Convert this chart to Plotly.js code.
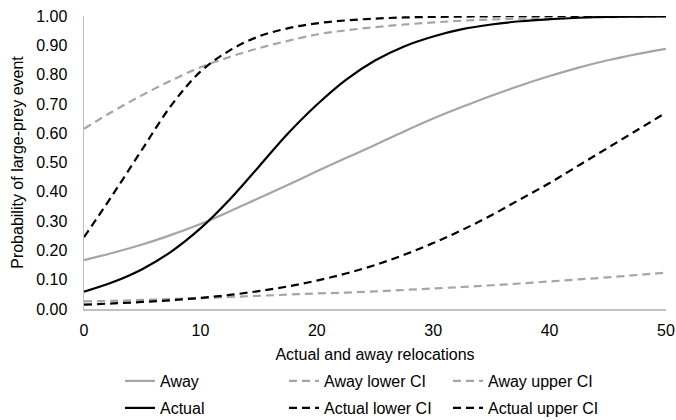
<!DOCTYPE html>
<html>
<head>
<meta charset="utf-8">
<script src="https://cdn.plot.ly/plotly-3.0.1.min.js"></script>
<style>html,body{margin:0;padding:0;background:#fff;}#chart{width:676px;height:420px;}</style>
</head>
<body>
<div id="chart"></div>
<script>
// Relocations (x)
const relocations = [0, 2.5, 5, 7.5, 10, 12.5, 15, 17.5, 20, 22.5, 25, 27.5, 30, 32.5, 35, 37.5, 40, 42.5, 45, 47.5, 50];

// Away series
const away        = [0.167, 0.192, 0.22, 0.253, 0.29, 0.333, 0.378, 0.423, 0.47, 0.515, 0.56, 0.606, 0.65, 0.69, 0.728, 0.763, 0.795, 0.824, 0.849, 0.87, 0.888];
const awayLower   = [0.026, 0.028, 0.031, 0.034, 0.037, 0.041, 0.045, 0.049, 0.053, 0.056, 0.06, 0.065, 0.07, 0.075, 0.081, 0.087, 0.094, 0.101, 0.108, 0.116, 0.124];
const awayUpper   = [0.615, 0.675, 0.73, 0.78, 0.825, 0.86, 0.89, 0.915, 0.937, 0.951, 0.962, 0.971, 0.978, 0.984, 0.988, 0.991, 0.993, 0.995, 0.996, 0.997, 0.998];

// Actual series
const actual      = [0.059, 0.092, 0.136, 0.196, 0.275, 0.373, 0.485, 0.598, 0.697, 0.782, 0.848, 0.896, 0.93, 0.955, 0.971, 0.982, 0.989, 0.994, 0.997, 0.998, 0.999];
const actualLower = [0.015, 0.019, 0.024, 0.030, 0.038, 0.048, 0.061, 0.077, 0.097, 0.121, 0.15, 0.185, 0.225, 0.27, 0.32, 0.375, 0.43, 0.49, 0.55, 0.61, 0.67];
const actualUpper = [0.245, 0.392, 0.545, 0.695, 0.81, 0.882, 0.93, 0.958, 0.975, 0.985, 0.991, 0.995, 0.997, 0.998, 0.999, 0.9995, 1.0, 1.0, 1.0, 1.0, 1.0];

const seriesNames = ['Away', 'Away lower CI', 'Away upper CI', 'Actual', 'Actual lower CI', 'Actual upper CI'];

const yTickVals = [0, 0.1, 0.2, 0.3, 0.4, 0.5, 0.6, 0.7, 0.8, 0.9, 1.0];
const yTickText = ['0.00', '0.10', '0.20', '0.30', '0.40', '0.50', '0.60', '0.70', '0.80', '0.90', '1.00'];
const xTickVals = [0, 10, 20, 30, 40, 50];

const GRAY = '#a5a5a5';
const BLACK = '#000000';
const DASH = '8px,5px';
const FONT = 'Liberation Sans, Arial, sans-serif';

function mk(name, y, color, dash, legend) {
  return {
    type: 'scatter', mode: 'lines', name: name, x: relocations, y: y,
    line: {color: color, width: 2.2, dash: dash, shape: 'spline', smoothing: 1},
    legend: legend, hoverinfo: 'skip'
  };
}

const data = [
  mk(seriesNames[0], away, GRAY, 'solid', 'legend'),
  mk(seriesNames[1], awayLower, GRAY, DASH, 'legend'),
  mk(seriesNames[2], awayUpper, GRAY, DASH, 'legend'),
  mk(seriesNames[3], actual, BLACK, 'solid', 'legend2'),
  mk(seriesNames[4], actualLower, BLACK, DASH, 'legend2'),
  mk(seriesNames[5], actualUpper, BLACK, DASH, 'legend2')
];

const legendBase = {
  orientation: 'h', xref: 'container', yref: 'container',
  xanchor: 'left', yanchor: 'middle',
  entrywidth: 119, entrywidthmode: 'pixels',
  font: {family: FONT, size: 16, color: '#000'},
  bgcolor: 'rgba(0,0,0,0)', borderwidth: 0, itemwidth: 30,
  traceorder: 'normal'
};

const layout = {
  width: 676, height: 420,
  margin: {l: 84, r: 10, t: 16, b: 111},
  paper_bgcolor: '#ffffff', plot_bgcolor: '#ffffff',
  font: {family: FONT, size: 16, color: '#000'},
  showlegend: true,
  legend: Object.assign({}, legendBase, {x: 120/676, y: 1 - 381/420}),
  legend2: Object.assign({}, legendBase, {x: 120/676, y: 1 - 408/420}),
  xaxis: {
    range: [0, 50], tickvals: xTickVals, ticks: '', showgrid: false, zeroline: false,
    showline: true, linecolor: '#bfbfbf', linewidth: 1.5,
    tickfont: {family: FONT, size: 16, color: '#000'},
    ticklabelstandoff: 6,
    title: {text: 'Actual and away relocations', font: {family: FONT, size: 16, color: '#000'}, standoff: 11}
  },
  yaxis: {
    range: [0, 1], tickvals: yTickVals, ticktext: yTickText, ticks: '', showgrid: false, zeroline: false,
    showline: true, linecolor: '#bfbfbf', linewidth: 1.5,
    tickfont: {family: FONT, size: 16, color: '#000'},
    ticklabelstandoff: 12,
    title: {text: 'Probability of large-prey event', font: {family: FONT, size: 16, color: '#000'}, standoff: 8}
  }
};

Plotly.newPlot('chart', data, layout, {displayModeBar: false, staticPlot: true});
</script>
</body>
</html>
